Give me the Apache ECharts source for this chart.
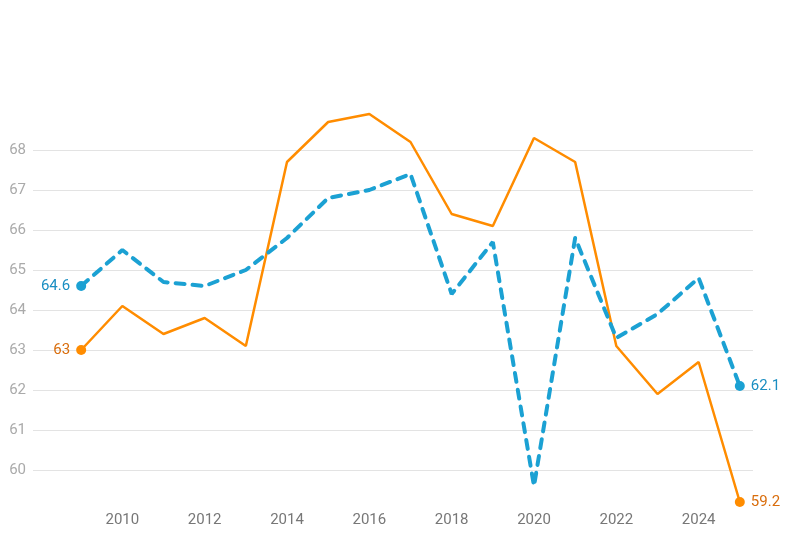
<!DOCTYPE html>
<html>
<head>
<meta charset="utf-8">
<script src="https://cdn.jsdelivr.net/npm/echarts@6/dist/echarts.min.js"></script>
<style>html,body{margin:0;padding:0;background:#fff;}#c{width:793px;height:541px;}</style>
</head>
<body>
<div id="c"></div>
<script>
var years = [2009,2010,2011,2012,2013,2014,2015,2016,2017,2018,2019,2020,2021,2022,2023,2024,2025];
var blueValues = [64.6,65.5,64.7,64.6,65.0,65.8,66.8,67.0,67.4,64.4,65.7,59.6,65.8,63.3,63.9,64.8,62.1];
var orangeValues = [63.0,64.1,63.4,63.8,63.1,67.7,68.7,68.9,68.2,66.4,66.1,68.3,67.7,63.1,61.9,62.7,59.2];
var xTickLabels = [2010,2012,2014,2016,2018,2020,2022,2024];
var yTickLabels = [60,61,62,63,64,65,66,67,68];

function buildData(vals, labelColor) {
  var last = vals.length - 1;
  return vals.map(function (v, i) {
    var item = { value: [years[i], v] };
    if (i === 0 || i === last) {
      item.label = {
        show: true,
        position: i === 0 ? 'left' : 'right',
        distance: 6,
        color: labelColor,
        fontSize: 15,
        fontFamily: 'Roboto',
        formatter: function (p) { return String(p.value[1]); }
      };
    }
    return item;
  });
}
function endSize(v, p) {
  return (p.dataIndex === 0 || p.dataIndex === years.length - 1) ? 10 : 0;
}

var chart = echarts.init(document.getElementById('c'), null, { renderer: 'canvas' });
chart.setOption({
  animation: false,
  backgroundColor: '#fff',
  grid: { left: 33, right: 40, top: 100, bottom: 35, containLabel: false },
  xAxis: {
    type: 'value',
    min: 2007.83,
    max: 2025.32,
    axisLine: { show: false },
    axisTick: { show: false, customValues: xTickLabels },
    splitLine: { show: false },
    axisLabel: {
      customValues: xTickLabels,
      color: '#777',
      fontSize: 15,
      fontFamily: 'Roboto',
      margin: 7,
      formatter: function (v) { return String(v); }
    }
  },
  yAxis: {
    type: 'value',
    min: 59.1,
    max: 69.25,
    axisLine: { show: false },
    axisTick: { show: false, customValues: yTickLabels },
    splitLine: { show: true, lineStyle: { color: '#e3e3e3', width: 1 } },
    axisLabel: {
      customValues: yTickLabels,
      color: '#aaa',
      fontSize: 15,
      fontFamily: 'Roboto',
      margin: 7
    }
  },
  series: [
    {
      type: 'line',
      name: 'orange',
      data: buildData(orangeValues, '#d96d0c'),
      symbol: 'circle',
      symbolSize: endSize,
      showAllSymbol: true,
      itemStyle: { color: '#ff8c00' },
      lineStyle: { color: '#ff8c00', width: 2.5 },
      z: 2
    },
    {
      type: 'line',
      name: 'blue',
      data: buildData(blueValues, '#1a8ec2'),
      symbol: 'circle',
      symbolSize: endSize,
      showAllSymbol: true,
      itemStyle: { color: '#1ba1d3' },
      lineStyle: { color: '#1ba1d3', width: 4, type: [9, 8], cap: 'round' },
      z: 3
    }
  ]
});
</script>
</body>
</html>
